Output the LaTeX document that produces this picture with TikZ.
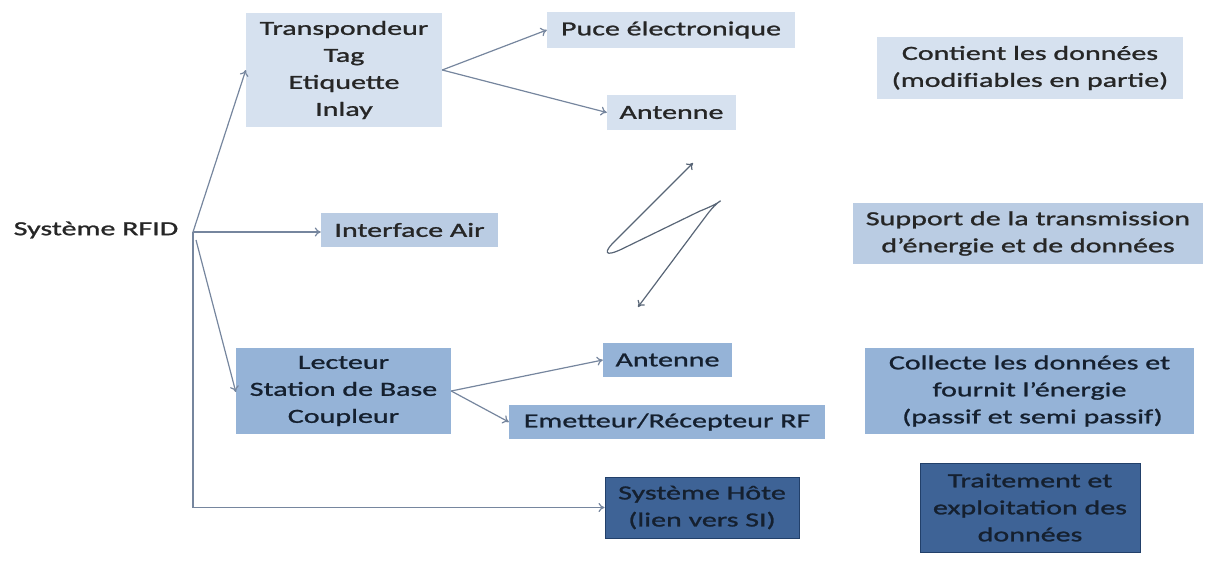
\documentclass[tikz,border=0pt]{standalone}
\usepackage{fontspec}
\setmainfont{Carlito}[FakeStretch=1.5, FakeBold=1.2]
\usetikzlibrary{arrows.meta}
\definecolor{boxA}{HTML}{D6E1EF}
\definecolor{boxB}{HTML}{BACCE3}
\definecolor{boxC}{HTML}{95B3D7}
\definecolor{boxD}{HTML}{3E6396}
\definecolor{boxDline}{HTML}{22406A}
\definecolor{link}{HTML}{76869E}
\definecolor{ink}{HTML}{262626}
\definecolor{inkdark}{HTML}{15202F}
\tikzset{
  base/.style={rectangle, inner sep=0pt, align=center, text=ink,
    font=\fontsize{20}{27}\selectfont},
  lightbox/.style={base, fill=boxA},
  midbox/.style={base, fill=boxB},
  bluebox/.style={base, fill=boxC, text=inkdark},
  darkbox/.style={base, fill=boxD, draw=boxDline, line width=1pt, text=inkdark},
  link/.style={draw=link, line width=1.2pt, -{To[length=6pt,width=9pt]}},
  wave/.style={draw=link!75!black, line width=1.2pt,
    {To[length=6pt,width=9pt]}-{To[length=6pt,width=9pt]}}
}
\begin{document}
\begin{tikzpicture}[x=1pt,y=-1pt]
\useasboundingbox (0,0) rectangle (1211,562);

% root label and its branching point
\node[base] (rfid) at (96,230) {Système RFID};
\coordinate (hub) at (193,232);
\coordinate (hubl) at (196,240);

% first column
\node[lightbox, minimum width=196pt, minimum height=114pt] (trans) at (344,70)
  {Transpondeur\\Tag\\Etiquette\\Inlay};
\node[midbox, minimum width=177pt, minimum height=34pt] (air) at (409.5,230)
  {Interface Air};
\node[bluebox, minimum width=215pt, minimum height=86pt] (lect) at (343.5,391)
  {Lecteur\\Station de Base\\Coupleur};

% components
\node[lightbox, minimum width=248pt, minimum height=36pt] (puce) at (671,30)
  {Puce électronique};
\node[lightbox, minimum width=129pt, minimum height=35pt] (ant1) at (671.5,112.5)
  {Antenne};
\node[bluebox, minimum width=129pt, minimum height=34pt] (ant2) at (667.5,360)
  {Antenne};
\node[bluebox, minimum width=316pt, minimum height=34pt] (emet) at (667,422)
  {Emetteur/Récepteur RF};
\node[darkbox, minimum width=194pt, minimum height=61pt] (hote) at (702,507.5)
  {Système Hôte\\(lien vers SI)};

% descriptions
\node[lightbox, minimum width=306pt, minimum height=62pt] (cont) at (1030,68)
  {Contient les données\\(modifiables en partie)};
\node[midbox, minimum width=350pt, minimum height=61pt] (supp) at (1028,233.5)
  {Support de la transmission\\d’énergie et de données};
\node[bluebox, minimum width=329pt, minimum height=86pt] (coll) at (1029.5,391)
  {Collecte les données et\\fournit l’énergie\\\hspace{6pt}(passif et semi passif)};
\node[darkbox, minimum width=220pt, minimum height=89pt] (trait) at (1030,507.5)
  {Traitement et\\exploitation des\\données};

% branches from the root
\draw[link] (hub) -- (trans.west);
\draw[link] (hub) -- (air.west |- hub);
\draw[link] (hubl) -- ([yshift=-1pt]lect.west);
\draw[link] (hub) -- (hub |- hote.west) -- (hote.west);

% transponder parts
\draw[link] (trans.east) -- (puce.west);
\draw[link] (trans.east) -- (ant1.west);

% reader parts
\draw[link] (lect.east) -- (ant2.west);
\draw[link] (lect.east) -- (emet.west);

% air link between the two antennas: a looped zigzag
\coordinate (wtop) at (693,163);
\coordinate (wbot) at (638,307);
\draw[wave] (wbot) -- (706,216)
  .. controls (722,194) and (731,199) .. (700,211)
  -- (624,248)
  .. controls (604,258) and (602,253) .. (617,239)
  -- (wtop);
\end{tikzpicture}
\end{document}
